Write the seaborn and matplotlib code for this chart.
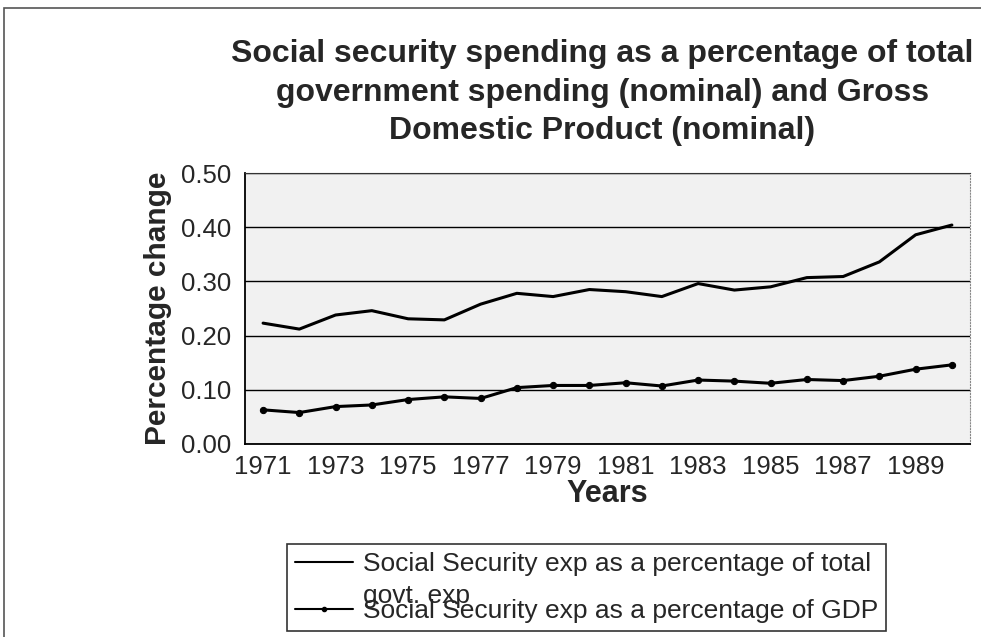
import numpy as np
import pandas as pd
import matplotlib
matplotlib.use("Agg")
import matplotlib.pyplot as plt
from matplotlib.patches import Rectangle
from matplotlib.lines import Line2D
import seaborn as sns

years = list(range(1971, 1991))
share_govt = [0.223, 0.212, 0.238, 0.246, 0.231, 0.229, 0.258, 0.278, 0.272, 0.285,
              0.281, 0.272, 0.296, 0.284, 0.290, 0.307, 0.309, 0.336, 0.386, 0.404]
share_gdp = [0.063, 0.058, 0.069, 0.072, 0.082, 0.087, 0.084, 0.104, 0.108, 0.108,
             0.113, 0.107, 0.118, 0.116, 0.112, 0.119, 0.117, 0.125, 0.138, 0.146]
label_govt = ["Social Security exp as a percentage of total", "govt. exp"]
label_gdp = "Social Security exp as a percentage of GDP"
yticks = [0.0, 0.1, 0.2, 0.3, 0.4, 0.5]

df = pd.DataFrame({"year": years, "govt": share_govt, "gdp": share_gdp})

sns.set_style("white")
plt.rcParams['font.family'] = ['Liberation Sans', 'DejaVu Sans']

fig = plt.figure(figsize=(9.81, 6.37), dpi=100)
ax = fig.add_axes([0.2497, 0.3030, 0.9888 - 0.2497, 0.7284 - 0.3030])
ax.set_facecolor('#f1f1f1')

# outer chart border
fig.patches.append(Rectangle((0.004, -0.01), 1.0, 0.997, transform=fig.transFigure,
                             fill=False, edgecolor='#555555', linewidth=1.2))

sns.lineplot(data=df, x="year", y="govt", ax=ax, color='black', linewidth=2.2)
sns.lineplot(data=df, x="year", y="gdp", ax=ax, color='black', linewidth=2.2,
             marker='o', markersize=4.5, markeredgecolor='black')

ax.set_xlim(years[0] - 0.5, years[-1] + 0.5)
ax.set_ylim(0, 0.5)
ax.set_yticks(yticks)
ax.set_yticklabels([f"{v:.2f}" for v in yticks], fontsize=18.5)
ax.set_xticks(years[::2])
ax.set_xticklabels([str(y) for y in years[::2]], fontsize=18.5)
ax.set_xticks([y - 0.5 for y in years] + [years[-1] + 0.5], minor=True)
ax.tick_params(axis='x', which='major', length=0, pad=8)
ax.tick_params(axis='x', which='minor', direction='out', length=5, width=1, color='black')
ax.tick_params(axis='y', which='major', direction='out', length=5, width=1, color='black', pad=5)

ax.yaxis.grid(True, color='black', linewidth=1.0)
ax.xaxis.grid(False)
for side in ['left', 'bottom']:
    ax.spines[side].set_color('black')
    ax.spines[side].set_linewidth(1.3)
ax.spines['top'].set_color('#333333')
ax.spines['top'].set_linestyle((0, (4, 1)))
ax.spines['right'].set_color('#888888')
ax.spines['right'].set_linestyle(':')

ax.set_xlabel("Years", fontsize=22, fontweight='bold', labelpad=0)
ax.set_ylabel("Percentage change", fontsize=21.5, fontweight='bold', labelpad=6)

fig.text(0.614, 0.938, "Social security spending as a percentage of total\n"
         "government spending (nominal) and Gross\nDomestic Product (nominal)",
         ha='center', va='top', fontsize=23, fontweight='bold', linespacing=1.36)

handles = [Line2D([], [], color='black', linewidth=1.5),
           Line2D([], [], color='none'),
           Line2D([], [], color='black', linewidth=1.5, marker='o', markersize=3)]
leg = fig.legend(handles, label_govt + [label_gdp], loc='upper left',
                 bbox_to_anchor=(0.293, 0.146), fontsize=19, frameon=True,
                 fancybox=False, edgecolor='black', handlelength=2.2,
                 handletextpad=0.35, labelspacing=-0.02, borderpad=0.3,
                 borderaxespad=0)
leg.get_frame().set_linewidth(1.2)
# "govt. exp" wraps low, crowding the next entry as in the original
leg.get_texts()[1].set_y(-9)

fig.savefig("out.png", dpi=100)
